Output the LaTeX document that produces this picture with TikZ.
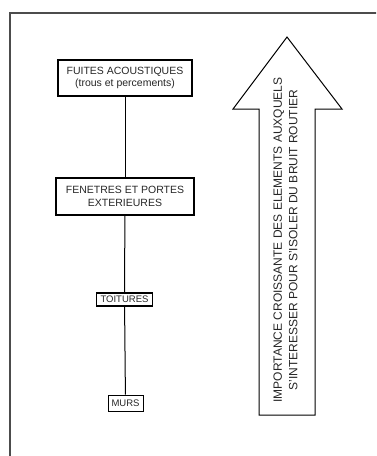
\documentclass[tikz,border=0pt]{standalone}
\usepackage{fontspec}
\setmainfont{Liberation Sans}

\begin{document}
\begin{tikzpicture}[x=1pt, y=-1pt,
    box/.style={draw, line width=1.6pt, inner sep=0pt, align=center,
        text=black!85, font=\fontsize{10.5}{12.5}\selectfont},
    small/.style={font=\fontsize{9.5}{11}\selectfont},
    link/.style={line width=1pt}]
    \useasboundingbox (0,0) rectangle (376,456);
    \clip (0,0) rectangle (376,456);

    % --- Frame ---
    \draw[black!70, line width=1.5pt] (10,13) rectangle (390,470);

    % --- Boxes ---
    \node[box, minimum width=134pt, minimum height=36pt] (fuites) at (125,78)
        {FUITES ACOUSTIQUES\\(trous et percements)};
    \node[box, minimum width=138pt, minimum height=37pt] (fenetres) at (125,196.5)
        {FENETRES ET PORTES\\EXTERIEURES};
    \node[box, small, line width=1.3pt, minimum width=56pt, minimum height=13pt] (toitures) at (124.5,299.5)
        {TOITURES};
    \node[box, small, line width=0.9pt, minimum width=35pt, minimum height=16pt] (murs) at (125.5,403)
        {MURS};

    % --- Links ---
    \draw[link] (fuites) -- (fenetres);
    \draw[link] (fenetres) -- (toitures);
    \draw[link] (toitures) -- (murs);

    % --- Big arrow ---
    \coordinate (tip) at (287,37);
    \coordinate (hl) at (233,109);
    \coordinate (hr) at (342,109);
    \draw[line width=1pt] (259,415) -- (259,109) -- (hl) -- (tip) -- (hr)
        -- (315,109) -- (315,415) -- cycle;
    \node[rotate=90, align=center, text=black!85,
        font=\fontsize{12}{15.5}\selectfont] (importance) at (285.5,240)
        {IMPORTANCE CROISSANTE DES ELEMENTS AUXQUELS\\
         S'INTERESSER POUR S'ISOLER DU BRUIT ROUTIER};

\end{tikzpicture}
\end{document}
